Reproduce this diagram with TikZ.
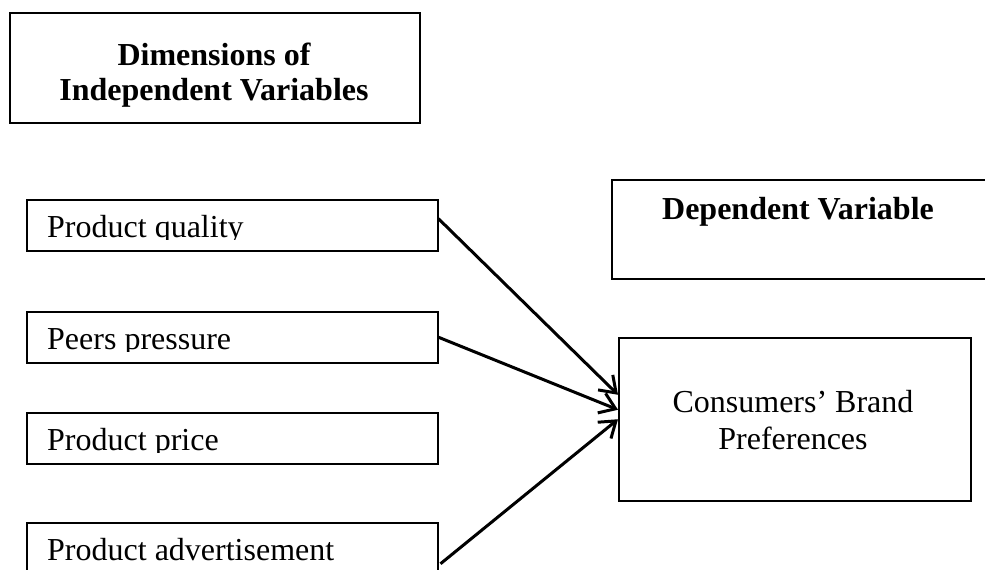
\documentclass[tikz,border=0pt]{standalone}
\usepackage{fontspec}
\setmainfont{Liberation Serif}
\usetikzlibrary{arrows.meta,positioning,calc}

\begin{document}
\begin{tikzpicture}[x=1pt, y=-1pt,
    box/.style={draw, line width=1.5pt, rectangle, inner sep=0pt, anchor=north west},
    lbl/.style={font=\fontsize{32}{35}\selectfont, inner sep=0pt},
    hdr/.style={inner sep=0pt, font=\fontsize{32}{35}\selectfont\bfseries},
    arr/.style={line width=3pt, -{Straight Barb[length=15pt, width=21pt]}}]
    \useasboundingbox (0,0) rectangle (985,570);
    \clip (0,0) rectangle (985,570);

    % Independent variables heading
    \node[box, minimum width=410pt, minimum height=110pt] (dims) at (9,12) {};
    \node[hdr, align=center] (dimstxt) at (214,75) {Dimensions of\\Independent Variables};

    % Dependent variable heading
    \node[box, minimum width=400pt, minimum height=99pt] (dep) at (611,179) {};
    \node[hdr, anchor=base] (deptxt) at (798,219) {Dependent Variable};

    % Outcome
    \node[box, minimum width=352pt, minimum height=163pt] (pref) at (618,337) {};
    \node[lbl, align=center, font=\fontsize{32}{37}\selectfont] (preftxt) at (793,420.5) {Consumers’ Brand\\Preferences};

    % Independent variables (text cut at the baseline, as in the source)
    \foreach \nm/\y/\txt in {qual/199/Product quality, peer/311/Peers pressure, price/412/Product price, adv/522/Product advertisement} {
        \node[box, minimum width=411pt, minimum height=51pt] (\nm) at (26,\y) {};
        \begin{scope}
            \clip (26,\y) rectangle (437,\y+40);
            \node[lbl, anchor=base west] (\nm-txt) at (47,\y+38.5) {\txt};
        \end{scope}
    }

    % Arrows
    \draw[arr] ([yshift=6.5pt]qual.east) -- ([yshift=24.5pt]pref.west);
    \draw[arr] (peer.east) -- ([yshift=9.5pt]pref.west);
    \draw[arr] ([xshift=2pt,yshift=-15.5pt]adv.east) -- (pref.west);
\end{tikzpicture}
\end{document}
